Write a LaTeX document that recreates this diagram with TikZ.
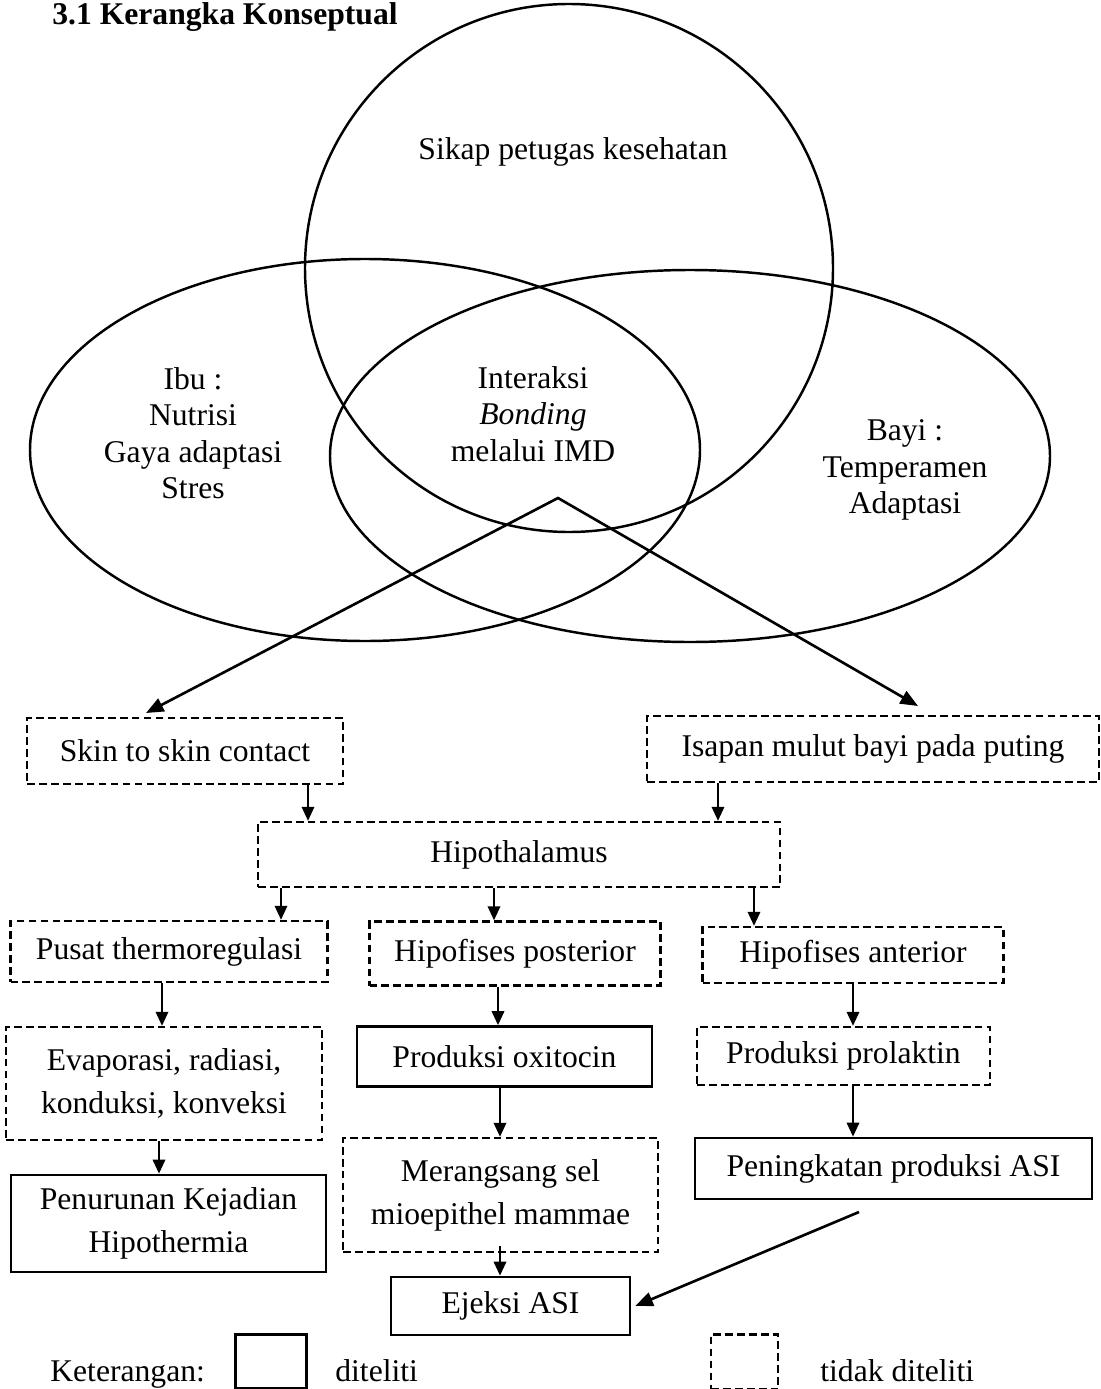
\documentclass[tikz,border=0pt]{standalone}
\usepackage{fontspec}
\setmainfont{Liberation Serif}
\usetikzlibrary{arrows.meta}
\begin{document}
\begin{tikzpicture}[x=0.02cm,y=-0.02cm,
  base/.style={font=\fontsize{18}{24.5}\selectfont, align=center, inner sep=0pt, rectangle, line width=1.3pt},
  dbox/.style={base, draw, dash pattern=on 4.4pt off 2.4pt},
  sbox/.style={base, draw, line width=1.5pt},
  lbl/.style={font=\fontsize{18}{20.8}\selectfont, align=center, inner sep=0pt},
  txt/.style={font=\fontsize{18}{22}\selectfont, inner sep=0pt, anchor=base west},
  ring/.style={line width=1.4pt},
  arr/.style={line width=1.4pt, -{Triangle[length=8pt,width=7pt]}},
  darr/.style={line width=1.5pt, line join=miter, {Triangle[length=10pt,width=8pt]}-{Triangle[length=10pt,width=8pt]}},
  sarr/.style={line width=1.5pt, -{Triangle[length=10pt,width=8pt]}}
]
\useasboundingbox (0,0) rectangle (1101,1389);

% title
\node[txt, font=\fontsize{18}{22}\selectfont\bfseries] (title) at (52,25) {3.1 Kerangka Konseptual};

% circle and ellipses
\draw[ring] (569,268) circle[radius=264];
\draw[ring] (365,450) ellipse[x radius=335, y radius=191];
\draw[ring] (690,456) ellipse[x radius=360, y radius=186];

\node[lbl] (sikap) at (573,152) {Sikap petugas kesehatan};
\node[lbl] (ibu) at (193,433) {Ibu :\\Nutrisi\\Gaya adaptasi\\Stres};
\node[lbl] (interaksi) at (533,414) {Interaksi\\\textit{Bonding}\\melalui IMD};
\node[lbl] (bayi) at (905,470) {Bayi :\\Temperamen\\Adaptasi};

% boxes
\node[dbox, minimum width=6.32cm, minimum height=1.32cm] (skin) at (185,751) {Skin to skin contact};
\node[dbox, minimum width=9.04cm, minimum height=1.32cm] (isapan) at (873,749) {Isapan mulut bayi pada puting};
\node[dbox, minimum width=10.44cm, minimum height=1.30cm] (hipo) at (519,854.5) {Hipothalamus};
\node[dbox, minimum width=6.34cm, minimum height=1.22cm] (pusat) at (169,951.5) {Pusat thermoregulasi};
\node[dbox, minimum width=5.82cm, minimum height=1.28cm] (hpost) at (515,953.5) {Hipofises posterior};
\node[dbox, minimum width=6.02cm, minimum height=1.12cm] (hant) at (853,955) {Hipofises anterior};
\node[dbox, minimum width=6.32cm, minimum height=2.26cm] (evap) at (164,1083.5) {Evaporasi, radiasi,\\konduksi, konveksi};
\node[sbox, minimum width=5.9cm, minimum height=1.2cm] (oxi) at (504.5,1056.5) {Produksi oxitocin};
\node[dbox, minimum width=5.86cm, minimum height=1.16cm] (prol) at (843.5,1056) {Produksi prolaktin};
\node[sbox, minimum width=6.3cm, minimum height=1.94cm] (penurunan) at (168.5,1223.5) {Penurunan Kejadian\\Hipothermia};
\node[dbox, minimum width=6.3cm, minimum height=2.28cm] (merangsang) at (500.5,1195) {Merangsang sel\\mioepithel mammae};
\node[sbox, minimum width=7.94cm, minimum height=1.22cm] (peningkatan) at (893.5,1168.5) {Peningkatan produksi ASI};
\node[sbox, minimum width=4.78cm, minimum height=1.16cm] (ejeksi) at (510.5,1306) {Ejeksi ASI};

% legend
\node[txt] (ket) at (50,1381) {Keterangan:};
\node[sbox, minimum width=1.42cm, minimum height=1.08cm] (legS) at (271,1361.5) {};
\node[txt] (dit) at (335,1381) {diteliti};
\node[dbox, minimum width=1.34cm, minimum height=1.1cm] (legD) at (744.5,1362) {};
\node[txt] (tdit) at (820,1381) {tidak diteliti};

% connectors
\coordinate (apex) at (558,498);
\coordinate (tipL) at (146,713);
\coordinate (tipR) at (918,706);
\draw[darr] (tipL) -- (apex) -- (tipR);

\coordinate (xa) at (308,0);
\coordinate (xb) at (718,0);
\coordinate (xc) at (281,0);
\coordinate (xd) at (494,0);
\coordinate (xe) at (754,0);
\coordinate (xf) at (162,0);
\coordinate (xg) at (498,0);
\coordinate (xh) at (853,0);
\coordinate (xi) at (159,0);
\coordinate (xj) at (500,0);

\draw[arr] (skin.south -| xa) -- (hipo.north -| xa);
\draw[arr] (isapan.south -| xb) -- (hipo.north -| xb);
\draw[arr] (hipo.south -| xc) -- (pusat.north -| xc);
\draw[arr] (hipo.south -| xd) -- (hpost.north -| xd);
\draw[arr] (hipo.south -| xe) -- (hant.north -| xe);
\draw[arr] (pusat.south -| xf) -- (evap.north -| xf);
\draw[arr] (hpost.south -| xg) -- (oxi.north -| xg);
\draw[arr] (hant.south -| xh) -- (prol.north -| xh);
\draw[arr] (evap.south -| xi) -- (penurunan.north -| xi);
\draw[arr] (oxi.south -| xj) -- (merangsang.north -| xj);
\draw[arr] (prol.south -| xh) -- (peningkatan.north -| xh);
\draw[arr] ([yshift=0.14cm]merangsang.south -| xj) -- (ejeksi.north -| xj);

\coordinate (pstart) at (859,1212);
\draw[sarr] (pstart) -- ([xshift=0.08cm]ejeksi.east);
\end{tikzpicture}
\end{document}
